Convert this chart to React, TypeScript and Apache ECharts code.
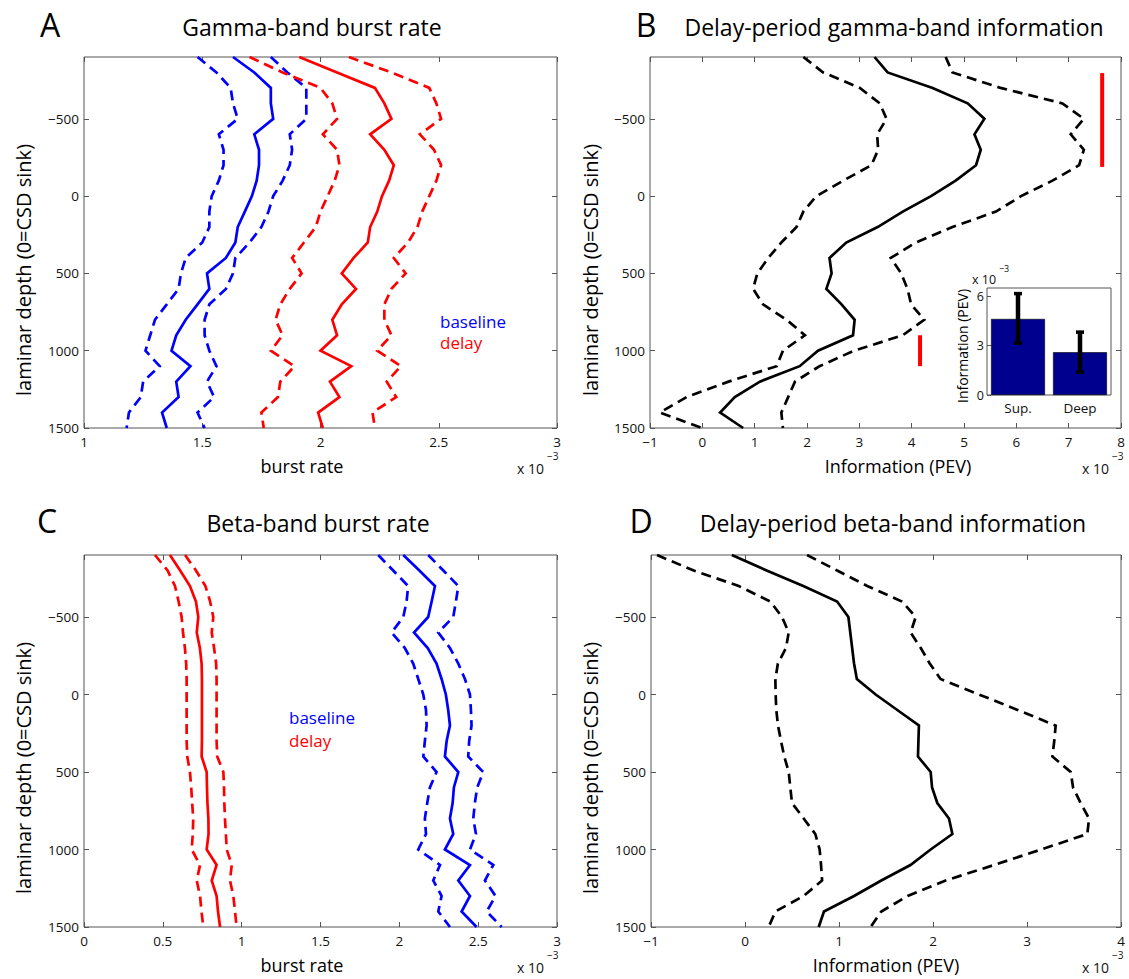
import React, { useEffect, useRef } from "react";
import * as echarts from "echarts";

// Laminar depth samples (µm, 0 = CSD sink), shared by every profile
const depths = [
  -900, -800, -700, -600, -500, -400, -300, -200, -100, 0, 100, 200, 300,
  400, 500, 600, 700, 800, 900, 1000, 1100, 1200, 1300, 1400, 1500,
];
const depthTicks = [-500, 0, 500, 1000, 1500];

// A: gamma-band burst rate (x 10^-3)
const gammaBaseMean = [1.63, 1.72, 1.79, 1.79, 1.8, 1.72, 1.74, 1.74, 1.73, 1.71, 1.68, 1.65, 1.64, 1.6, 1.52, 1.53, 1.48, 1.43, 1.39, 1.37, 1.45, 1.39, 1.4, 1.33, 1.35];
const gammaBaseLo = [1.48, 1.56, 1.62, 1.63, 1.65, 1.57, 1.59, 1.59, 1.57, 1.54, 1.53, 1.53, 1.5, 1.43, 1.41, 1.4, 1.35, 1.3, 1.28, 1.26, 1.32, 1.25, 1.24, 1.19, 1.18];
const gammaBaseHi = [1.79, 1.86, 1.94, 1.94, 1.94, 1.87, 1.88, 1.87, 1.84, 1.8, 1.78, 1.75, 1.7, 1.64, 1.63, 1.6, 1.53, 1.51, 1.51, 1.53, 1.56, 1.52, 1.55, 1.48, 1.51];
const gammaDelayMean = [1.91, 2.07, 2.23, 2.27, 2.3, 2.21, 2.27, 2.31, 2.29, 2.26, 2.24, 2.21, 2.2, 2.14, 2.09, 2.15, 2.09, 2.05, 2.07, 2.0, 2.13, 2.04, 2.08, 1.99, 2.01];
const gammaDelayLo = [1.7, 1.84, 2.0, 2.05, 2.07, 2.01, 2.07, 2.08, 2.06, 2.03, 2.0, 1.98, 1.93, 1.88, 1.92, 1.87, 1.83, 1.81, 1.84, 1.79, 1.89, 1.83, 1.82, 1.75, 1.76];
const gammaDelayHi = [2.12, 2.3, 2.46, 2.49, 2.51, 2.42, 2.48, 2.51, 2.49, 2.46, 2.43, 2.41, 2.37, 2.31, 2.36, 2.3, 2.27, 2.27, 2.3, 2.24, 2.34, 2.28, 2.32, 2.22, 2.23];

// B: delay-period gamma-band information (PEV, x 10^-3)
const gammaInfoMean = [3.29, 3.54, 4.4, 5.07, 5.39, 5.2, 5.32, 5.23, 4.84, 4.37, 3.83, 3.35, 2.75, 2.43, 2.47, 2.37, 2.66, 2.91, 2.88, 2.21, 1.86, 1.1, 0.62, 0.34, 0.78];
const gammaInfoLo = [1.93, 2.31, 3.01, 3.39, 3.52, 3.34, 3.36, 3.23, 2.69, 2.18, 1.93, 1.8, 1.51, 1.26, 1.05, 0.97, 1.16, 1.61, 1.96, 1.54, 1.42, 0.5, -0.3, -0.81, -0.01];
const gammaInfoHi = [4.65, 4.78, 5.7, 6.88, 7.29, 7.04, 7.29, 7.2, 6.69, 6.09, 5.61, 4.78, 4.08, 3.6, 3.8, 3.92, 3.99, 4.24, 3.83, 2.9, 2.24, 1.77, 1.64, 1.51, 1.54];
// significant depth ranges (x position, first depth, last depth)
const sigBarsB = [
  { x: 7.64, from: -796, to: -189 },
  { x: 4.16, from: 900, to: 1100 },
];

// B inset: layer averages
const insetCategories = ["Sup.", "Deep"];
const insetMeans = [4.62, 2.6];
const insetLow = [3.15, 1.38];
const insetHigh = [6.16, 3.82];
const insetTicks = [0, 3, 6];

// C: beta-band burst rate (x 10^-3)
const betaDelayMean = [0.545, 0.61, 0.672, 0.71, 0.725, 0.715, 0.735, 0.746, 0.748, 0.748, 0.748, 0.748, 0.748, 0.746, 0.778, 0.78, 0.783, 0.789, 0.79, 0.778, 0.841, 0.81, 0.841, 0.85, 0.863];
const betaDelayLo = [0.45, 0.53, 0.577, 0.6, 0.619, 0.628, 0.64, 0.648, 0.651, 0.651, 0.651, 0.651, 0.651, 0.655, 0.672, 0.68, 0.686, 0.693, 0.69, 0.683, 0.736, 0.715, 0.736, 0.745, 0.757];
const betaDelayHi = [0.641, 0.71, 0.77, 0.8, 0.82, 0.81, 0.825, 0.838, 0.841, 0.841, 0.841, 0.841, 0.841, 0.845, 0.884, 0.888, 0.89, 0.894, 0.9, 0.905, 0.937, 0.926, 0.947, 0.958, 0.968];
const betaBaseMean = [2.025, 2.127, 2.226, 2.205, 2.183, 2.093, 2.18, 2.236, 2.268, 2.295, 2.31, 2.321, 2.3, 2.289, 2.374, 2.346, 2.338, 2.321, 2.342, 2.289, 2.448, 2.374, 2.448, 2.395, 2.49];
const betaBaseLo = [1.866, 1.961, 2.056, 2.046, 2.025, 1.951, 2.035, 2.088, 2.12, 2.152, 2.169, 2.173, 2.162, 2.152, 2.236, 2.194, 2.177, 2.162, 2.169, 2.12, 2.258, 2.215, 2.268, 2.247, 2.321];
const betaBaseHi = [2.183, 2.279, 2.374, 2.359, 2.342, 2.247, 2.321, 2.374, 2.416, 2.448, 2.454, 2.458, 2.443, 2.437, 2.532, 2.494, 2.479, 2.469, 2.486, 2.448, 2.596, 2.543, 2.61, 2.554, 2.649];

// D: delay-period beta-band information (PEV, x 10^-3)
const betaInfoMean = [-0.14, 0.23, 0.62, 0.98, 1.1, 1.12, 1.14, 1.16, 1.19, 1.39, 1.62, 1.85, 1.845, 1.84, 1.975, 1.99, 2.046, 2.17, 2.206, 1.975, 1.76, 1.45, 1.16, 0.84, 0.784];
const betaInfoLo = [-0.936, -0.546, -0.067, 0.27, 0.394, 0.465, 0.436, 0.35, 0.323, 0.326, 0.333, 0.351, 0.383, 0.418, 0.465, 0.482, 0.5, 0.624, 0.748, 0.794, 0.809, 0.82, 0.624, 0.323, 0.252];
const betaInfoHi = [0.66, 0.98, 1.3, 1.67, 1.816, 1.762, 1.87, 1.965, 2.08, 2.49, 2.9, 3.305, 3.29, 3.27, 3.465, 3.49, 3.57, 3.66, 3.642, 3.15, 2.65, 2.135, 1.73, 1.45, 1.337];

const FONT = "'Open Sans', 'Noto Sans', sans-serif";
const BLUE = "#0000ff";
const RED = "#ff0000";
const BLACK = "#000000";
const FRAME = "#555555";
const LABEL_COLOR = "#111111";
const BAR_COLOR = "#00008f";

const panels = [
  { box: { left: 84, top: 57, width: 473, height: 371 }, xMin: 1, xMax: 3, xStep: 0.5 },
  { box: { left: 650, top: 57, width: 471, height: 371 }, xMin: -1, xMax: 8, xStep: 1 },
  { box: { left: 84, top: 555, width: 473, height: 372 }, xMin: 0, xMax: 3, xStep: 0.5 },
  { box: { left: 651, top: 555, width: 470, height: 372 }, xMin: -1, xMax: 4, xStep: 1 },
];
const insetBox = { left: 987, top: 288, width: 124, height: 107 };

const withMinus = (v: number) => String(v).replace("-", "\u2212");

const profile = (values: number[]) => values.map((v, i) => [v, depths[i]]);

function depthLine(values: number[], color: string, dashed: boolean, panel: number) {
  return {
    type: "line",
    data: profile(values),
    xAxisIndex: panel * 2,
    yAxisIndex: panel * 2,
    showSymbol: false,
    symbol: "none",
    silent: true,
    z: 3,
    lineStyle: {
      color,
      width: 2.7,
      type: dashed ? [10, 6] : "solid",
      cap: "butt",
      join: "miter",
    },
  };
}

function buildAxes() {
  const tickStyle = { show: true, inside: true, length: 5, lineStyle: { color: FRAME, width: 1 } };
  const labelStyle = { fontFamily: FONT, fontSize: 13.5, color: LABEL_COLOR };
  const hiddenLine = { show: false, onZero: false };
  const xAxis: any[] = [];
  const yAxis: any[] = [];
  panels.forEach((p, g) => {
    const xCommon = {
      type: "value",
      gridIndex: g,
      min: p.xMin,
      max: p.xMax,
      interval: p.xStep,
      axisLine: hiddenLine,
      splitLine: { show: false },
      axisTick: tickStyle,
    };
    xAxis.push({ ...xCommon, position: "bottom", axisLabel: { ...labelStyle, margin: 7, formatter: withMinus } });
    xAxis.push({ ...xCommon, position: "top", axisLabel: { show: false } });
    const yCommon = {
      type: "value",
      gridIndex: g,
      inverse: true,
      min: depths[0],
      max: depths[depths.length - 1],
      axisLine: hiddenLine,
      splitLine: { show: false },
      axisTick: { ...tickStyle, customValues: depthTicks },
    };
    yAxis.push({
      ...yCommon,
      position: "left",
      axisLabel: { ...labelStyle, margin: 5, formatter: withMinus, customValues: depthTicks },
    });
    yAxis.push({ ...yCommon, position: "right", axisLabel: { show: false } });
  });
  xAxis.push({
    type: "category",
    gridIndex: 4,
    data: insetCategories,
    axisLine: hiddenLine,
    axisTick: { show: false },
    axisLabel: { fontFamily: FONT, fontSize: 13.5, color: LABEL_COLOR, margin: 6 },
  });
  yAxis.push({
    type: "value",
    gridIndex: 4,
    min: 0,
    max: 6.5,
    axisLine: hiddenLine,
    splitLine: { show: false },
    axisTick: { ...tickStyle, length: 4, customValues: insetTicks },
    axisLabel: { fontFamily: FONT, fontSize: 12.5, color: LABEL_COLOR, margin: 3, customValues: insetTicks },
  });
  return { xAxis, yAxis };
}

function text(x: number, y: number, content: string, size: number, extra: any = {}) {
  const { rotation, ...style } = extra;
  return {
    type: "text",
    x,
    y,
    rotation: rotation || 0,
    silent: true,
    z: 10,
    style: {
      text: content,
      fontFamily: FONT,
      fontSize: size,
      fill: BLACK,
      align: "center",
      verticalAlign: "middle",
      ...style,
    },
  };
}

function multiplier(x: number, y: number, size = 14) {
  return [
    text(x, y, "x 10", size, { align: "left", fill: LABEL_COLOR }),
    text(x + size * 2.15, y - size * 0.85, "\u22123", size * 0.72, { align: "left", fill: LABEL_COLOR }),
  ];
}

function buildGraphics() {
  const rot = Math.PI / 2;
  return [
    // panel letters
    text(50, 24, "A", 32),
    text(646, 24, "B", 32),
    text(47, 520, "C", 32),
    text(641, 520, "D", 32),
    // titles
    text(312, 27, "Gamma-band burst rate", 23),
    text(894, 27, "Delay-period gamma-band information", 23),
    text(318, 523, "Beta-band burst rate", 23),
    text(893, 523, "Delay-period beta-band information", 23),
    // axis names
    text(302, 466, "burst rate", 18),
    text(898, 466, "Information (PEV)", 18),
    text(302, 965, "burst rate", 18),
    text(886, 965, "Information (PEV)", 18),
    text(23, 270, "laminar depth (0=CSD sink)", 20, { rotation: rot }),
    text(590, 270, "laminar depth (0=CSD sink)", 20, { rotation: rot }),
    text(23, 768, "laminar depth (0=CSD sink)", 20, { rotation: rot }),
    text(590, 768, "laminar depth (0=CSD sink)", 20, { rotation: rot }),
    ...multiplier(517, 468),
    ...multiplier(1082, 468),
    ...multiplier(517, 967),
    ...multiplier(1082, 967),
    // legends
    text(440, 321, "baseline", 17, { align: "left", fill: BLUE }),
    text(440, 342, "delay", 17, { align: "left", fill: RED }),
    text(289, 717, "baseline", 17, { align: "left", fill: BLUE }),
    text(289, 740, "delay", 17, { align: "left", fill: RED }),
    // inset labels
    text(962, 346, "Information (PEV)", 14, { rotation: rot }),
    ...multiplier(972, 279, 12.5),
  ];
}

function buildOption() {
  const { xAxis, yAxis } = buildAxes();
  const grid = [
    ...panels.map((p) => ({
      ...p.box,
      show: true,
      borderColor: FRAME,
      borderWidth: 1,
      backgroundColor: "transparent",
      containLabel: false,
    })),
    { ...insetBox, show: true, borderColor: FRAME, borderWidth: 1, backgroundColor: "#ffffff", containLabel: false },
  ];

  const series: any[] = [
    depthLine(gammaBaseLo, BLUE, true, 0),
    depthLine(gammaBaseMean, BLUE, false, 0),
    depthLine(gammaBaseHi, BLUE, true, 0),
    depthLine(gammaDelayLo, RED, true, 0),
    depthLine(gammaDelayMean, RED, false, 0),
    depthLine(gammaDelayHi, RED, true, 0),

    depthLine(gammaInfoLo, BLACK, true, 1),
    depthLine(gammaInfoMean, BLACK, false, 1),
    depthLine(gammaInfoHi, BLACK, true, 1),
    ...sigBarsB.map((b) => ({
      type: "line",
      data: [
        [b.x, b.from],
        [b.x, b.to],
      ],
      xAxisIndex: 2,
      yAxisIndex: 2,
      showSymbol: false,
      symbol: "none",
      silent: true,
      z: 4,
      lineStyle: { color: RED, width: 4, cap: "butt" },
    })),

    depthLine(betaDelayLo, RED, true, 2),
    depthLine(betaDelayMean, RED, false, 2),
    depthLine(betaDelayHi, RED, true, 2),
    depthLine(betaBaseLo, BLUE, true, 2),
    depthLine(betaBaseMean, BLUE, false, 2),
    depthLine(betaBaseHi, BLUE, true, 2),

    depthLine(betaInfoLo, BLACK, true, 3),
    depthLine(betaInfoMean, BLACK, false, 3),
    depthLine(betaInfoHi, BLACK, true, 3),

    {
      type: "bar",
      xAxisIndex: 8,
      yAxisIndex: 8,
      data: insetMeans,
      barWidth: "87%",
      silent: true,
      z: 5,
      itemStyle: { color: BAR_COLOR, borderColor: "#000000", borderWidth: 0.6 },
    },
    {
      type: "custom",
      xAxisIndex: 8,
      yAxisIndex: 8,
      silent: true,
      z: 6,
      data: insetMeans.map((_, i) => [i, insetLow[i], insetHigh[i]]),
      encode: { x: 0, y: [1, 2] },
      renderItem: (params: any, api: any) => {
        const idx = api.value(0);
        const lo = api.coord([idx, api.value(1)]);
        const hi = api.coord([idx, api.value(2)]);
        const half = 4;
        const stroke = { stroke: BLACK, lineWidth: 4.5 };
        const capStroke = { stroke: BLACK, lineWidth: 3.5 };
        return {
          type: "group",
          children: [
            { type: "line", shape: { x1: lo[0], y1: lo[1], x2: hi[0], y2: hi[1] }, style: stroke },
            { type: "line", shape: { x1: hi[0] - half, y1: hi[1], x2: hi[0] + half, y2: hi[1] }, style: capStroke },
            { type: "line", shape: { x1: lo[0] - half, y1: lo[1], x2: lo[0] + half, y2: lo[1] }, style: capStroke },
          ],
        };
      },
    },
  ];

  return {
    animation: false,
    backgroundColor: "#ffffff",
    textStyle: { fontFamily: FONT },
    grid,
    xAxis,
    yAxis,
    series,
    graphic: buildGraphics(),
  };
}

export default function App() {
  const ref = useRef<HTMLDivElement>(null);
  useEffect(() => {
    if (!ref.current) return;
    const chart = echarts.init(ref.current, undefined, { renderer: "svg" });
    chart.setOption(buildOption() as any);
    return () => chart.dispose();
  }, []);
  return (
    <div
      ref={ref}
      style={{ position: "fixed", left: 0, top: 0, width: 1129, height: 979, background: "#ffffff" }}
    />
  );
}
